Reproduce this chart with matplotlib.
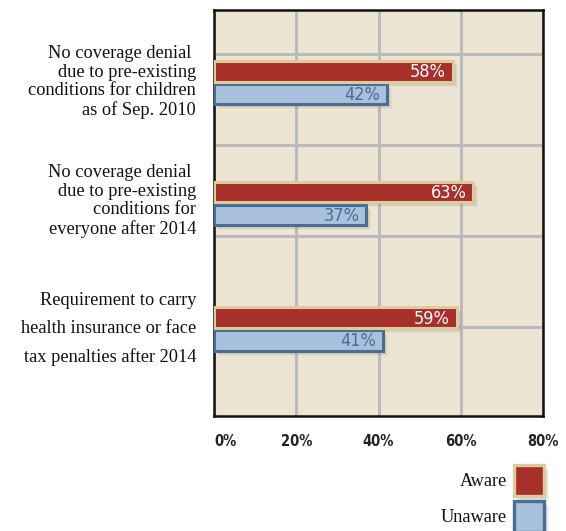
"""Awareness of health-reform provisions, horizontal grouped bars."""

import matplotlib
matplotlib.use("Agg")
import matplotlib.pyplot as plt
import matplotlib.transforms as mtransforms
from matplotlib import font_manager
from matplotlib.patches import Rectangle

provisions = [
    "No coverage denial \ndue to pre-existing\nconditions for children\nas of Sep. 2010",
    "No coverage denial \ndue to pre-existing\nconditions for\neveryone after 2014",
    "Requirement to carry\nhealth insurance or face\ntax penalties after 2014",
]
aware = [58, 63, 59]
unaware = [42, 37, 41]
x_ticks = [0, 20, 40, 60, 80]
x_tick_labels = ["0%", "20%", "40%", "60%", "80%"]

RED = "#a8302b"
RED_EDGE = "#dccb9f"
BLUE = "#aac1dd"
BLUE_EDGE = "#4a6d94"
BG = "#ede5d4"
GRID = "#bababa"

SERIF = ["Liberation Serif", "DejaVu Serif"]


def narrow_font(bold=False):
    # pick a condensed sans face if one is installed
    cands = [f for f in font_manager.fontManager.ttflist
             if "condensed" in f.fname.lower() or "narrow" in f.fname.lower()]
    want = "bold" if bold else "regular"
    for f in cands:
        name = f.fname.lower()
        is_bold = "bold" in name
        if "oblique" in name or "italic" in name:
            continue
        if is_bold == bold:
            return font_manager.FontProperties(fname=f.fname)
    return font_manager.FontProperties(family="DejaVu Sans", stretch="condensed",
                                       weight="bold" if bold else "normal")


NARROW = narrow_font(False)
NARROW_B = narrow_font(True)

W, H = 566, 531
fig = plt.figure(figsize=(W / 100, H / 100), dpi=100)
ax = fig.add_axes([214 / W, 1 - 416 / H, (543 - 214) / W, (416 - 10) / H])
ax.set_facecolor(BG)

centers = [1.32, 2.645, 4.025]
bar_h = 0.225
off = 0.125


def shadow(x0, y0, w, h):
    # soft drop shadow, offset down/right in pixels
    for i, a in enumerate([0.10, 0.08, 0.06]):
        tr = ax.transData + mtransforms.Affine2D().translate(3 + i, -(3 + i))
        ax.add_patch(Rectangle((x0, y0), w, h, facecolor="#6b6455", alpha=a,
                               edgecolor="none", transform=tr, zorder=2))


for c, a_val, u_val in zip(centers, aware, unaware):
    ya = c - off
    yu = c + off
    shadow(0, yu - bar_h / 2, u_val, bar_h)
    shadow(0, ya - bar_h / 2, a_val, bar_h)
    ax.barh(yu, u_val, height=bar_h, color=BLUE, edgecolor=BLUE_EDGE,
            linewidth=2.2, zorder=3)
    ax.barh(ya, a_val, height=bar_h, color=RED, edgecolor=RED_EDGE,
            linewidth=2.2, zorder=4)
    ax.text(a_val - 1.6, ya + 0.01, f"{a_val}%", ha="right", va="center",
            color="white", fontproperties=NARROW, fontsize=13, zorder=5)
    ax.text(u_val - 1.6, yu + 0.01, f"{u_val}%", ha="right", va="center",
            color=BLUE_EDGE, fontproperties=NARROW, fontsize=13, zorder=5)

ax.set_xlim(0, 80)
ax.set_ylim(4.98, 0.52)
ax.set_yticks([1, 2, 3, 4])
ax.set_yticklabels([])
ax.set_xticks(x_ticks)
ax.set_xticklabels(x_tick_labels, fontproperties=NARROW_B, fontsize=10.5,
                   color="#222222")
ax.get_xticklabels()[0].set_horizontalalignment("left")
ax.tick_params(length=0, pad=13)
ax.grid(True, color=GRID, linewidth=2.2, zorder=1)
ax.set_axisbelow(True)
for s in ax.spines.values():
    s.set_linewidth(1.8)
    s.set_color("#111111")

# category labels left of the axes
label_y = [82, 201, 329]
spacing = [1.13, 1.13, 1.8]
for text, y, ls in zip(provisions, label_y, spacing):
    fig.text(196 / W, 1 - y / H, text, ha="right", va="center",
             multialignment="right", fontsize=13.2, family=SERIF,
             linespacing=ls, color="#111111")

# legend at the bottom right
for label, y0, face, edge in [("Aware", 465, RED, RED_EDGE),
                              ("Unaware", 501, BLUE, BLUE_EDGE)]:
    for i, a in enumerate([0.10, 0.08, 0.06]):
        fig.patches.append(Rectangle(((514 + 3 + i) / W, 1 - (y0 + 31 + 3 + i) / H),
                                     30 / W, 31 / H, transform=fig.transFigure,
                                     facecolor="#6b6455", alpha=a, edgecolor="none"))
    fig.patches.append(Rectangle((514 / W, 1 - (y0 + 31) / H), 30 / W, 31 / H,
                                 transform=fig.transFigure, facecolor=face,
                                 edgecolor=edge, linewidth=2.4))
    fig.text(507 / W, 1 - (y0 + 17) / H, label, ha="right", va="center",
             fontsize=13.2, family=SERIF, color="#111111")

fig.savefig("out.png", dpi=100, facecolor="white")
